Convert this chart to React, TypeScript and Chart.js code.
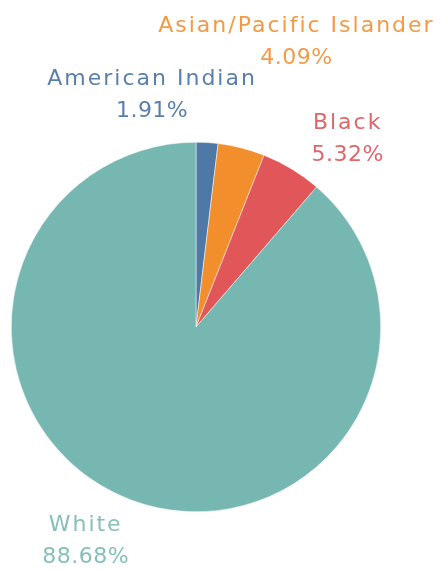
import React, { useEffect, useRef } from "react";
import { Chart, registerables } from "chart.js";

Chart.register(...registerables);

const categories = ["American Indian", "Asian/Pacific Islander", "Black", "White"];
const shares = [1.91, 4.09, 5.32, 88.68];
const percentLabels = ["1.91%", "4.09%", "5.32%", "88.68%"];
const sliceColors = ["#4e79a7", "#f28e2b", "#e15759", "#76b7b2"];
const labelColors = ["#5a7fab", "#f29a45", "#e0666a", "#85bfba"];

const labelPlugin = {
  id: "sliceLabels",
  afterDatasetsDraw(chart: any, _args: any, opts: any) {
    const ctx = chart.ctx;
    const meta = chart.getDatasetMeta(0);
    ctx.save();
    ctx.font = opts.font;
    ctx.textAlign = "center";
    ctx.textBaseline = "middle";
    meta.data.forEach((arc: any, i: number) => {
      const { x, y, outerRadius, startAngle, endAngle } = arc.getProps(
        ["x", "y", "outerRadius", "startAngle", "endAngle"],
        true
      );
      const mid = (startAngle + endAngle) / 2;
      const ax = x + Math.cos(mid) * outerRadius;
      const ay = y + Math.sin(mid) * outerRadius;
      const off = opts.offsets[i];
      const cx = ax + off[0];
      const cy = ay + off[1];
      ctx.fillStyle = labelColors[i];
      (ctx as any).letterSpacing = opts.nameSpacing;
      ctx.fillText(categories[i], cx, cy - opts.lineGap / 2);
      (ctx as any).letterSpacing = opts.valueSpacing;
      ctx.fillText(percentLabels[i], cx, cy + opts.lineGap / 2);
    });
    ctx.restore();
  },
};

export default function App() {
  const ref = useRef<HTMLCanvasElement | null>(null);
  useEffect(() => {
    if (!ref.current) return;
    const chart = new Chart(ref.current, {
      type: "pie",
      data: {
        labels: categories,
        datasets: [
          {
            data: shares,
            backgroundColor: sliceColors,
            borderColor: "#ffffff",
            borderWidth: 0.5,
          },
        ],
      },
      options: {
        responsive: false,
        animation: false,
        layout: { padding: { left: 11, right: 61, top: 142, bottom: 58 } },
        plugins: {
          legend: { display: false },
          tooltip: { enabled: false },
          sliceLabels: {
            font: '22px "DejaVu Sans"',
            nameSpacing: "2px",
            valueSpacing: "0.5px",
            lineGap: 32,
            offsets: [
              [-55, -47],
              [55, -106],
              [56, -30],
              [-46, 41],
            ],
          },
        } as any,
      },
      plugins: [labelPlugin],
    });
    return () => chart.destroy();
  }, []);
  return (
    <div style={{ position: "fixed", left: 0, top: 0, width: 442, height: 570, background: "#fff" }}>
      <canvas ref={ref} width={442} height={570} />
    </div>
  );
}
